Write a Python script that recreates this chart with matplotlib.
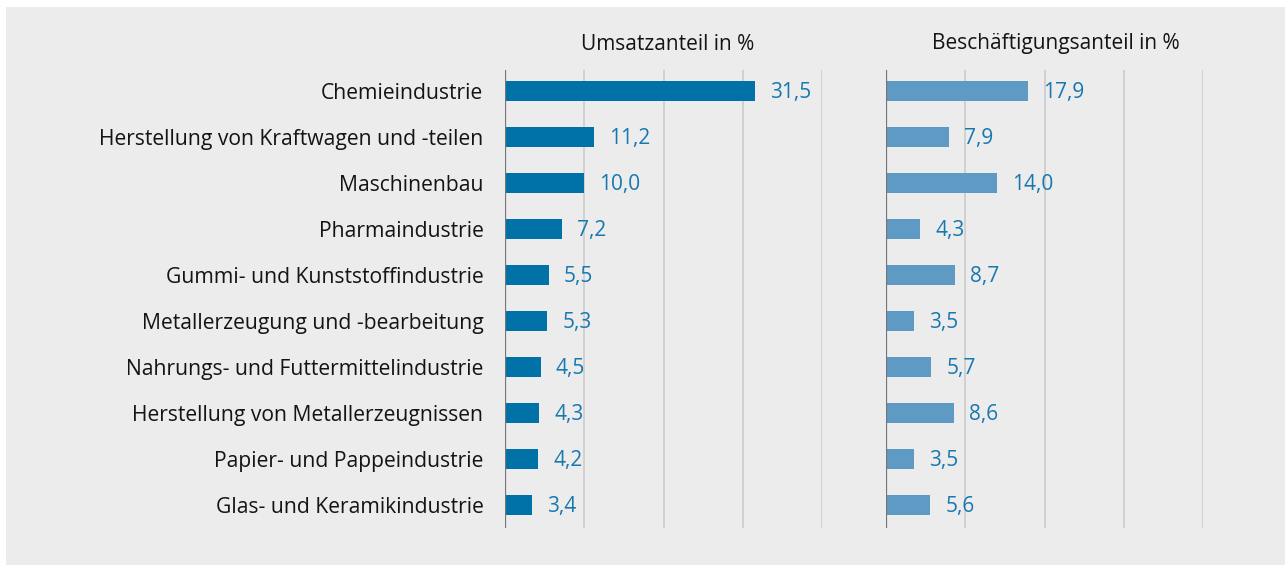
import matplotlib.pyplot as plt

plt.rcParams["font.family"] = ["Open Sans", "DejaVu Sans"]

branchen = [
    "Chemieindustrie",
    "Herstellung von Kraftwagen und -teilen",
    "Maschinenbau",
    "Pharmaindustrie",
    "Gummi- und Kunststoffindustrie",
    "Metallerzeugung und -bearbeitung",
    "Nahrungs- und Futtermittelindustrie",
    "Herstellung von Metallerzeugnissen",
    "Papier- und Pappeindustrie",
    "Glas- und Keramikindustrie",
]
umsatz = [31.5, 11.2, 10.0, 7.2, 5.5, 5.3, 4.5, 4.3, 4.2, 3.4]
beschaeftigung = [17.9, 7.9, 14.0, 4.3, 8.7, 3.5, 5.7, 8.6, 3.5, 5.6]
titel = ["Umsatzanteil in %", "Beschäftigungsanteil in %"]

BG = "#ececec"
W, H = 1286, 565

fig = plt.figure(figsize=(W / 100, H / 100), dpi=100, facecolor="white")
fig.add_artist(
    plt.Rectangle((6 / W, 0), 1 - 7 / W, 1 - 7 / H, transform=fig.transFigure,
                  facecolor=BG, edgecolor="none", zorder=-10)
)

bottom = 1 - 528 / H
height = 458 / H
panels = [
    (505, umsatz, "#0072a8", 668),
    (886, beschaeftigung, "#5f9ac4", 1056),
]
ypos = list(range(len(branchen)))

for i, (x0, values, color, tx) in enumerate(panels):
    ax = fig.add_axes([x0 / W, bottom, 317 / W, height])
    ax.set_facecolor("none")
    ax.barh(ypos, values, height=0.45, color=color, zorder=3)
    ax.set_xlim(0, 40)
    ax.set_ylim(len(branchen) - 0.5, -0.46)
    for x in (10, 20, 30, 40):
        ax.axvline(x, color="#cacaca", lw=1.1, zorder=1)
    ax.axvline(0, color="#757575", lw=1.6, zorder=4)
    for s in ax.spines.values():
        s.set_visible(False)
    ax.set_xticks([])
    ax.tick_params(left=False)
    if i == 0:
        ax.set_yticks(ypos)
        ax.set_yticklabels(branchen, fontsize=15.2, color="#141414")
        ax.tick_params(axis="y", pad=12)
    else:
        ax.set_yticks([])
    for y, v in zip(ypos, values):
        ax.annotate(f"{v:.1f}".replace(".", ","), xy=(v, y + 0.03), xytext=(11, 0),
                    textcoords="offset points", va="center", ha="left",
                    fontsize=15, color="#1778b0")
    fig.text(tx / W, 1 - 44 / H, titel[i], ha="center", va="center",
             fontsize=15, color="#141414")

fig.savefig("out.png", dpi=100, facecolor=fig.get_facecolor())
